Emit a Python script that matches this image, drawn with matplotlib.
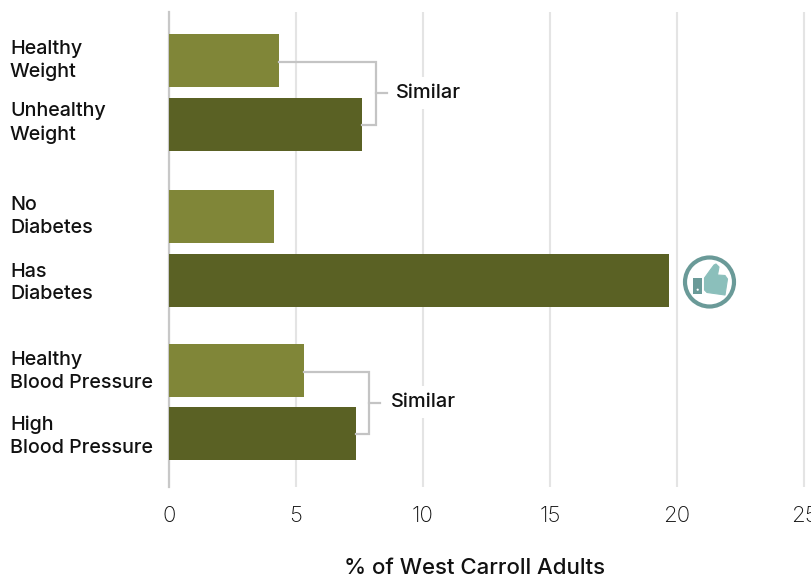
import matplotlib.pyplot as plt
from matplotlib.patches import Circle, Polygon, Rectangle

plt.rcParams['font.family'] = ['Inter', 'DejaVu Sans']

labels = ['Healthy\nWeight', 'Unhealthy\nWeight', 'No\nDiabetes', 'Has\nDiabetes',
          'Healthy\nBlood Pressure', 'High\nBlood Pressure']
values = [4.35, 7.6, 4.15, 19.7, 5.3, 7.35]
bar_colors = ['#808638', '#5a6124', '#808638', '#5a6124', '#808638', '#5a6124']
x_ticks = [0, 5, 10, 15, 20, 25]
x_label = '% of West Carroll Adults'
compare_label = 'Similar'

W, H = 812, 578
ROW_PX = 64
group_offset = [0, 0, 0.44, 0.44, 0.84, 0.83]
label_shift = [-4.5, -6, -4.5, -2, -3.5, -2]
y_pos = [i + g for i, g in enumerate(group_offset)]
label_pos = [y + s / ROW_PX for y, s in zip(y_pos, label_shift)]

fig = plt.figure(figsize=(W / 100, H / 100), dpi=100)
ax = fig.add_axes([169 / W, 1 - 487 / H, (W - 169) / W, 475 / H])

ax.barh(y_pos, values, height=53 / ROW_PX, color=bar_colors, zorder=2)

ax.set_xlim(0, (W - 169) / 25.4)
ax.set_ylim(y_pos[-1] + 53.4 / ROW_PX, y_pos[0] - 48.5 / ROW_PX)
ax.set_xticks(x_ticks)
ax.set_yticks(label_pos)
ax.set_yticklabels(labels, fontsize=14.2, fontweight='medium', color='#111111',
                   ha='left', linespacing=1.34)
ax.tick_params(axis='y', length=0, pad=159 * 0.72)
ax.tick_params(axis='x', length=0, pad=13.5, labelsize=16, labelcolor='#111111')
for t in ax.get_xticklabels():
    t.set_fontweight('light')
ax.grid(axis='x', color='#e4e4e4', linewidth=1.5, zorder=0)
ax.set_axisbelow(True)
for side in ['top', 'right', 'bottom']:
    ax.spines[side].set_visible(False)
ax.spines['left'].set_color('#c8c8c8')
ax.spines['left'].set_linewidth(1.6)
ax.spines['left'].set_zorder(1)

ax.set_xlabel(x_label, fontsize=16, fontweight='medium', color='#111111')
ax.xaxis.set_label_coords((475 - 169) / (W - 169), -(568.5 - 487) / 475)
ax.xaxis.label.set_verticalalignment('center')

# brackets joining the pairs with no real difference
for a, b, gap, text_gap in [(0, 1, 0.55, 0.8), (4, 5, 0.52, 0.88)]:
    end = max(values[a], values[b]) + gap
    ya, yb = y_pos[a] + 0.02, y_pos[b] + 0.01
    ym = (ya + yb) / 2
    ax.plot([values[a], end, end, values[b]], [ya, ya, yb, yb],
            color='#c4c4c4', linewidth=1.6, solid_joinstyle='miter', zorder=3)
    ax.plot([end, end + 0.43], [ym, ym], color='#c4c4c4', linewidth=1.6, zorder=3)
    ax.text(end + text_gap, ym - 0.01, compare_label, fontsize=14.4, fontweight='medium',
            color='#111111', va='center', ha='left', zorder=4,
            bbox=dict(facecolor='white', edgecolor='none', pad=5))

# thumbs up icon, drawn in pixel space
over = fig.add_axes([0, 0, 1, 1])
over.set_xlim(0, W)
over.set_ylim(H, 0)
over.axis('off')
over.patch.set_alpha(0)
over.add_patch(Circle((709.5, 282), 24.5, facecolor='white', edgecolor='#6a9a98', linewidth=3))
over.add_patch(Rectangle((693.5, 278), 9, 16, facecolor='#6a9a98', edgecolor='none'))
over.add_patch(Circle((697.7, 289.7), 1.1, facecolor='white', edgecolor='none'))
thumb = [(704.5, 278), (711, 269), (714, 265), (716, 264), (719, 267), (717.5, 275),
         (725, 275.5), (727.5, 279), (725, 295), (707, 292.5), (704.5, 290)]
over.add_patch(Polygon(thumb, closed=True, facecolor='#8bbfbb', edgecolor='#8bbfbb',
                       linewidth=0.8, joinstyle='round'))

plt.savefig('out.png', dpi=100)
